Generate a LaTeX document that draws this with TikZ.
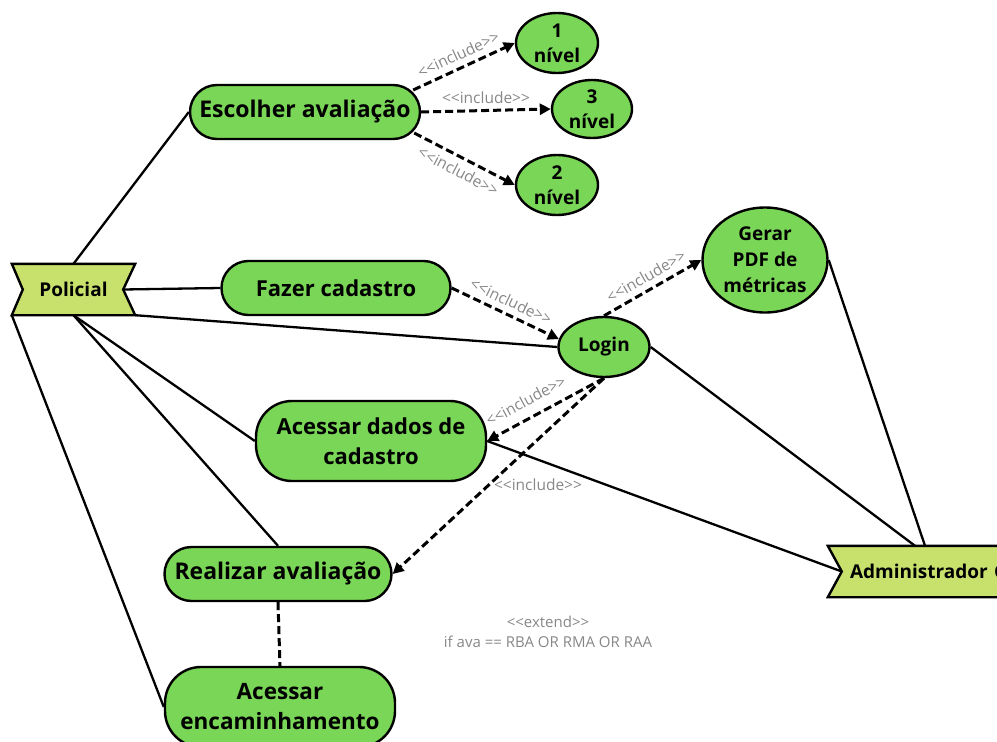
\documentclass[tikz,border=0pt]{standalone}
\usepackage{fontspec}
\setmainfont{Open Sans}
\usetikzlibrary{arrows.meta,calc,backgrounds,shapes.geometric}
\definecolor{ucgreen}{RGB}{122,214,86}
\definecolor{actorfill}{RGB}{200,224,108}
\definecolor{lblgray}{RGB}{135,135,135}
\newcommand{\incltxt}{<\kern0pt<include>\kern0pt>}
\tikzset{
  usecase/.style={draw=black, fill=ucgreen, line width=2.4pt, rounded corners=27pt,
    minimum height=54pt, inner sep=0pt, align=center,
    font=\bfseries\fontsize{23}{30}\selectfont},
  ucell/.style={ellipse, draw=black, fill=ucgreen, line width=2.4pt, inner sep=0pt,
    align=center, font=\bfseries\fontsize{19}{25}\selectfont},
  actor/.style={inner sep=0pt, font=\bfseries\fontsize{19}{23}\selectfont},
  banner/.style={draw=black, fill=actorfill, line width=2.4pt, line join=miter},
  assoc/.style={line width=2.3pt},
  incl/.style={line width=3pt, dash pattern=on 8pt off 4pt,
    -{Triangle[length=11pt,width=11pt]}},
  extline/.style={line width=3pt, dash pattern=on 8pt off 4pt},
  lbl/.style={text=lblgray, font=\fontsize{15.5}{20}\selectfont, inner sep=2pt},
}
\begin{document}
\begin{tikzpicture}[x=1pt,y=-1pt]
\useasboundingbox (0,0) rectangle (997,742);
\clip (0,0) rectangle (997,742);

% use cases
\node[usecase, minimum width=230pt] (esc) at (305,112) {Escolher avaliação};
\node[ucell, minimum width=82pt, minimum height=60pt] (n1) at (557,43) {1\\nível};
\node[ucell, minimum width=80pt, minimum height=58pt] (n3) at (592,109) {3\\nível};
\node[ucell, minimum width=82pt, minimum height=60pt] (n2) at (557,185) {2\\nível};
\node[usecase, minimum width=229pt, font=\bfseries\fontsize{22}{28}\selectfont] (faz) at (336,288) {Fazer cadastro};
\node[ucell, minimum width=91pt, minimum height=60pt] (login) at (604,347) {Login};
\node[ucell, minimum width=125pt, minimum height=105pt, font=\bfseries\fontsize{19}{26}\selectfont] (pdf) at (765,260) {Gerar\\PDF de\\métricas};
\node[usecase, minimum width=230pt, minimum height=80pt, rounded corners=36pt, font=\bfseries\fontsize{22}{30}\selectfont] (acd) at (371,441) {Acessar dados de\\cadastro};
\node[usecase, minimum width=227pt] (real) at (278,574) {Realizar avaliação};
\node[usecase, minimum width=230pt, minimum height=80pt, rounded corners=36pt, font=\bfseries\fontsize{22.5}{30}\selectfont] (enc) at (280,707) {Acessar\\encaminhamento};

% actors
\node[actor, minimum width=123pt, minimum height=51pt] (pol) at (73.5,289.5) {Policial};
\node[actor, text width=182pt, align=left, minimum height=51pt] (adm) at (919,571.5) {\hspace*{22pt}Administrador G};
\coordinate (polnotch) at ($(pol.east)+(-12,0)$);
\coordinate (admnotch) at ($(adm.west)+(14,0)$);
\begin{scope}[on background layer]
  \draw[banner] (pol.north west) -- (pol.north east) -- (polnotch) -- (pol.south east)
    -- (pol.south west) -- ($(pol.west)+(11,0)$) -- cycle;
  \draw[banner] (adm.north west) -- (adm.north east) -- (adm.south east)
    -- (adm.south west) -- (admnotch) -- cycle;
\end{scope}

% associations
\draw[assoc] (pol.north) -- (esc.west);
\draw[assoc] (polnotch) -- (faz.west);
\draw[assoc] (pol.south east) -- (login.west);
\draw[assoc] (pol.south) -- (acd.west);
\draw[assoc] (pol.south) -- (real.north);
\draw[assoc] (pol.south west) -- (enc.west);
\draw[assoc] (acd.east) -- (admnotch);
\draw[assoc] (login.east) -- ($(adm.north)+(-4,0)$);
\draw[assoc] (pdf.east) -- ($(adm.north)+(6,0)$);

% includes
\draw[incl] ($(esc.east)+(-8,-22)$) -- node[lbl, sloped, above=4pt] (l1) {\incltxt} (n1.west);
\draw[incl] (esc.east) -- node[lbl, above=3pt] (l3) {\incltxt} (n3.west);
\draw[incl] ($(esc.east)+(-7,21)$) -- node[lbl, sloped, below=4pt] (l2) {\incltxt} (n2.west);
\draw[incl] (faz.east) -- node[lbl, sloped, above=4pt] (lf) {\incltxt} (login.170);
\draw[incl] (login.north) -- node[lbl, sloped, above=4pt] (lg) {\incltxt} (pdf.west);
\draw[incl] (login.south) -- node[lbl, sloped, above=8pt, pos=0.6] (la) {\incltxt} (acd.east);
\draw[incl] (login.south) -- (real.east);
\node[lbl] (lr) at (538,485) {\incltxt};

% extend
\draw[extline] (real.south) -- (enc.north);
\node[lbl, align=center, font=\fontsize{15}{20}\selectfont] (ext) at (548,632) {<\kern0pt<extend>\kern0pt>\\if ava == RBA OR RMA OR RAA};
\end{tikzpicture}
\end{document}
